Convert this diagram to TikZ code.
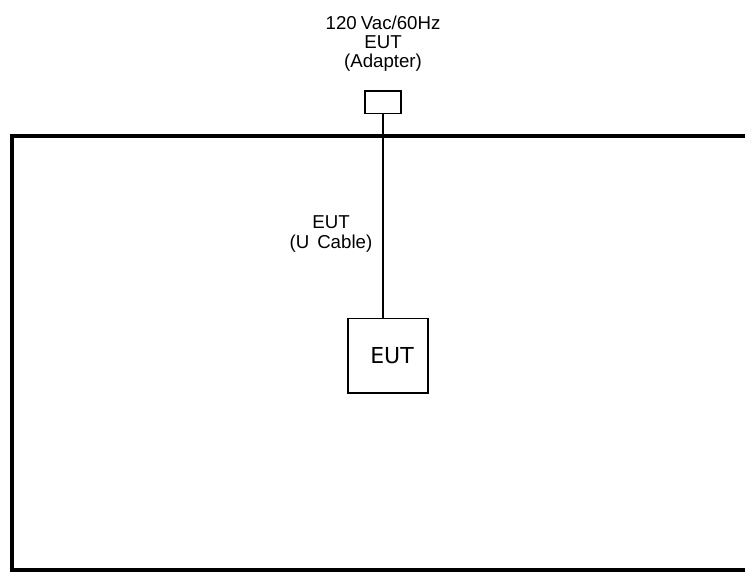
\documentclass[tikz,border=0pt]{standalone}
\usepackage{fontspec}
\setmainfont{Liberation Sans}
\newfontfamily\boxfont{DejaVu Sans}
\usetikzlibrary{positioning}
\tikzset{
    unit/.style =   {rectangle,
                    fill=white,
                    draw=black,
                    text=black,
                    line width=1pt,
                    inner sep=0pt},
    label/.style =  {align=center,
                    text=black,
                    inner sep=0pt,
                    font=\fontsize{14pt}{14.5pt}\selectfont},
    cable/.style =  {draw=black,
                    line width=1.1pt},
    table/.style =  {draw=black,
                    line width=2.4pt},
    node distance=1cm}

\begin{document}
\begin{tikzpicture}[x=0.75pt,y=-0.75pt]
    \useasboundingbox (0,0) rectangle (745,574);
    % ground plane
    \draw[table] (745,136) -- (12,136) -- (12,570) -- (745,570);
    \node[unit, minimum width=27pt, minimum height=17pt] (adapter) at (383,102.5) {};
    \node[unit, minimum width=60pt, minimum height=56pt,
          font=\boxfont\fontsize{16.5pt}{18pt}\selectfont] (eut) at (388,355.5) {\hspace*{6pt}EUT};
    \node[label, above=14pt of adapter] (supply) {120\hspace{3pt}Vac/60Hz\\EUT\\(Adapter)};
    \node[label] (ucable) at (331,234) {EUT\\(U\hspace{2pt} Cable)};
    % cable
    \draw[cable] (adapter.south) -- (adapter.south |- eut.north);
\end{tikzpicture}
\end{document}
